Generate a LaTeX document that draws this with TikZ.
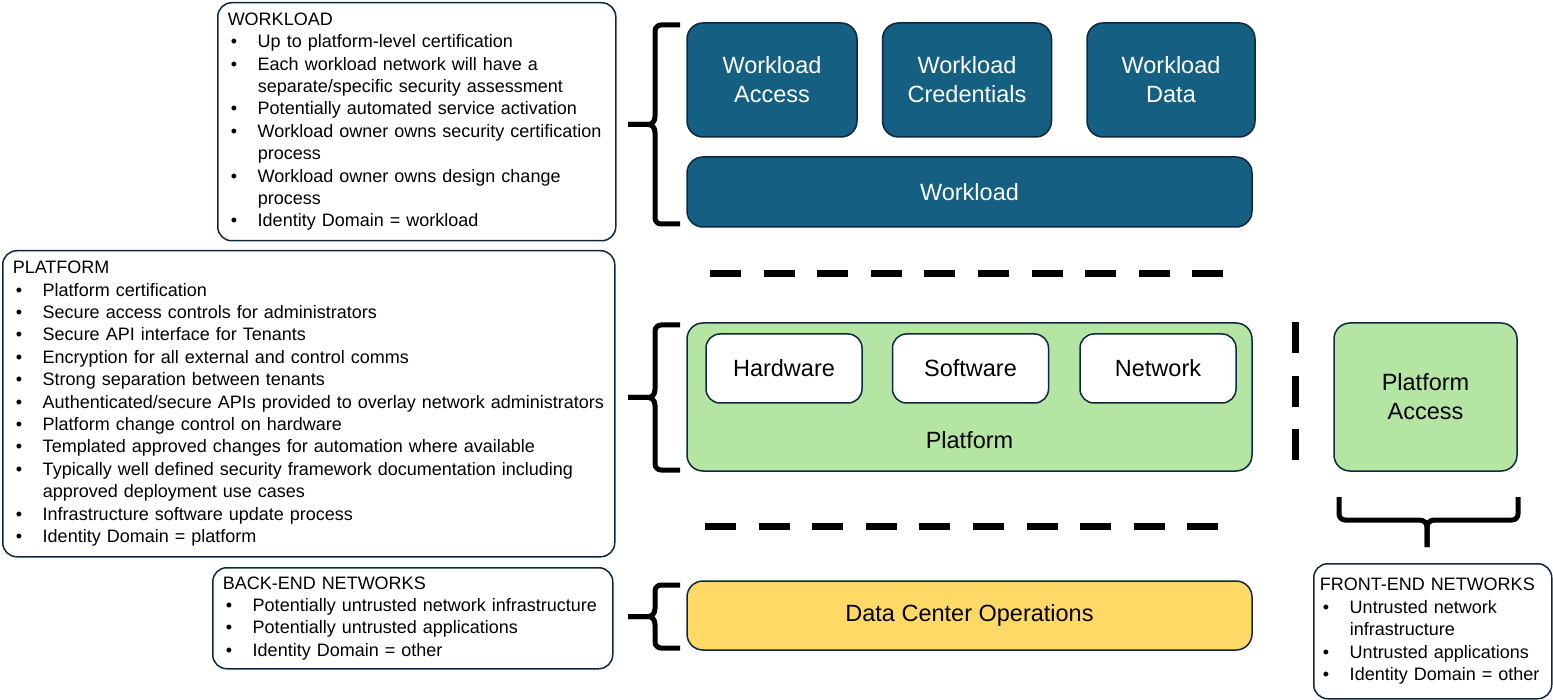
\documentclass[tikz,border=0pt]{standalone}
\usepackage{fontspec}
\setmainfont{Liberation Sans}
\usetikzlibrary{positioning}
\definecolor{wlBlue}{HTML}{156082}
\definecolor{edgeNavy}{HTML}{0E2841}
\definecolor{platGreen}{HTML}{B4E5A2}
\definecolor{dcYellow}{HTML}{FFD966}
\newcommand\bl{\par\hangindent=30pt\hangafter=1\noindent\hbox to 30pt{\hspace{3pt}\textbullet\hfil}}
\tikzset{
    box/.style={
           rectangle,
           rounded corners=16pt,
           draw=edgeNavy, line width=1.5pt,
           align=center,
           inner sep=0pt,
           font=\fontsize{23.5}{29}\selectfont},
    wlBox/.style={
           box,
           fill=wlBlue,
           text=white},
    platBox/.style={
           box,
           fill=platGreen},
    partBox/.style={
           box,
           fill=white,
           rounded corners=14pt,
           minimum width=156pt,
           minimum height=69pt},
    note/.style={
           rectangle,
           rounded corners=14pt,
           draw=edgeNavy, line width=1.5pt,
           align=left,
           anchor=north west,
           inner xsep=10pt,
           inner ysep=0pt,
           font=\fontsize{18}{22.4}\selectfont},
    curly/.style={
           line width=5pt,
           rounded corners=6pt},
    sep/.style={
           line width=7pt,
           dash pattern=on 31pt off 22.6pt}
}

\begin{document}
\begin{tikzpicture}[x=1pt, y=-1pt]
	\useasboundingbox (0,0) rectangle (1553,700);
	% notes
	\node[note, text width=378pt, minimum height=238pt] (wlNote) at (217,2) {WORKLOAD
		\bl Up to platform-level certification
		\bl Each workload network will have a\newline separate/specific security assessment
		\bl Potentially automated service activation
		\bl Workload owner owns security certification\newline process
		\bl Workload owner owns design change\newline process
		\bl Identity Domain = workload};
	\node[note, text width=592pt, minimum height=306pt] (platNote) at (2,250) {PLATFORM
		\bl Platform certification
		\bl Secure access controls for administrators
		\bl Secure API interface for Tenants
		\bl Encryption for all external and control comms
		\bl Strong separation between tenants
		\bl Authenticated/secure APIs provided to overlay network administrators
		\bl Platform change control on hardware
		\bl Templated approved changes for automation where available
		\bl Typically well defined security framework documentation including\newline approved deployment use cases
		\bl Infrastructure software update process
		\bl Identity Domain = platform};
	\node[note, text width=380pt, minimum height=101pt] (backNote) at (212,567) {BACK-END NETWORKS
		\bl Potentially untrusted network infrastructure
		\bl Potentially untrusted applications
		\bl Identity Domain = other};
	\node[note, text width=226pt, inner xsep=6pt, minimum height=135pt] (frontNote) at (1313,563) {FRONT-END NETWORKS
		\bl Untrusted network\newline infrastructure
		\bl Untrusted applications
		\bl Identity Domain = other};
	% workload layer
	\node[wlBox, minimum width=170pt, minimum height=114pt] (wlAccess) at (772,80) {Workload\\Access};
	\node[wlBox, minimum width=169pt, minimum height=114pt, right=24pt of wlAccess] (wlCred) {Workload\\Credentials};
	\node[wlBox, minimum width=168pt, minimum height=114pt, right=34pt of wlCred] (wlData) {Workload\\Data};
	\node[wlBox, minimum width=565pt, minimum height=70pt] (workload) at (969.5,192) {Workload};
	% platform layer
	\node[platBox, minimum width=565pt, minimum height=148pt] (platform) at (969.5,397) {};
	\node[partBox] (hardware) at (784,368.5) {Hardware};
	\node[partBox, right=29pt of hardware] (software) {Software};
	\node[partBox, right=30pt of software] (network) {Network};
	\node[font=\fontsize{23.5}{29}\selectfont] (platLabel) at (969.5,440) {Platform};
	\node[platBox, minimum width=183pt, minimum height=148pt] (platAccess) at (1425.5,397) {Platform\\Access};
	% data center
	\node[box, fill=dcYellow, minimum width=565pt, minimum height=69pt] (dco) at (969.5,615.5) {Data Center Operations};
	% braces
	\foreach \t/\b in {25/224, 325/470, 585/648}{
		\draw[curly] (680,\t) -- (655,\t) -- (655,{(\t+\b)/2-14}) .. controls (655,{(\t+\b)/2-3}) and (652,{(\t+\b)/2}) .. (642,{(\t+\b)/2}) -- (628,{(\t+\b)/2});
		\draw[curly] (680,\b) -- (655,\b) -- (655,{(\t+\b)/2+14}) .. controls (655,{(\t+\b)/2+3}) and (652,{(\t+\b)/2}) .. (642,{(\t+\b)/2}) -- (628,{(\t+\b)/2});
	}
	\draw[curly] (1339,497) -- (1339,520) -- (1413,520) .. controls (1424,520) and (1427,523) .. (1427,533) -- (1427,547);
	\draw[curly] (1518,497) -- (1518,520) -- (1441,520) .. controls (1430,520) and (1427,523) .. (1427,533) -- (1427,547);
	% separators
	\draw[sep] (710,274) -- (1230,274);
	\draw[sep] (705,526) -- (1225,526);
	\draw[sep] (1295,322) -- (1295,462);
\end{tikzpicture}
\end{document}
